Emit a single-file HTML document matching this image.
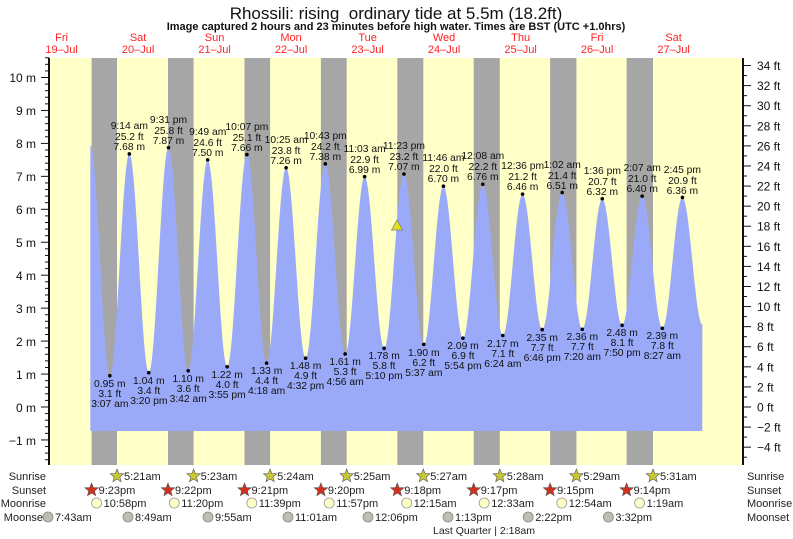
<!DOCTYPE html>
<html><head><meta charset="utf-8"><style>
body{margin:0;background:#fff}
svg{display:block;font-family:"Liberation Sans",sans-serif}
.l{font-size:10.3px;fill:#111;text-anchor:middle}
.d{font-size:11px;fill:#f22;text-anchor:middle}
.ax{font-size:12px;fill:#111}
.b{font-size:11px;fill:#222}
</style></head><body>
<svg id="s" width="793" height="539" viewBox="0 0 793 539" xmlns="http://www.w3.org/2000/svg">
<rect x="49" y="58" width="694" height="407" fill="#ffffc8"/>
<g fill="#a6a6a6">
<rect x="91.6" y="58" width="25.4" height="407"/>
<rect x="168" y="58" width="25.6" height="407"/>
<rect x="244.5" y="58" width="25.6" height="407"/>
<rect x="320.9" y="58" width="25.8" height="407"/>
<rect x="397.3" y="58" width="26" height="407"/>
<rect x="473.7" y="58" width="26.1" height="407"/>
<rect x="550.1" y="58" width="26.3" height="407"/>
<rect x="626.6" y="58" width="26.4" height="407"/>
</g>
<path id="tide" fill="#9aaaf8" d=""/>
<g id="ticks" stroke="#111" stroke-width="1"></g>
<line x1="49" y1="58" x2="49" y2="465" stroke="#111" stroke-width="2"/>
<line x1="743" y1="58" x2="743" y2="465" stroke="#111" stroke-width="2"/>
<text x="396" y="19" text-anchor="middle" font-size="17" fill="#111">Rhossili: rising &#160;ordinary tide at 5.5m (18.2ft)</text>
<text x="396" y="30" text-anchor="middle" font-size="11" font-weight="bold" fill="#111">Image captured 2 hours and 23 minutes before high water. Times are BST (UTC +1.0hrs)</text>
<text class="d" x="61.6" y="41">Fri</text><text class="d" x="61.6" y="53">19–Jul</text>
<text class="d" x="138.1" y="41">Sat</text><text class="d" x="138.1" y="53">20–Jul</text>
<text class="d" x="214.6" y="41">Sun</text><text class="d" x="214.6" y="53">21–Jul</text>
<text class="d" x="291.1" y="41">Mon</text><text class="d" x="291.1" y="53">22–Jul</text>
<text class="d" x="367.6" y="41">Tue</text><text class="d" x="367.6" y="53">23–Jul</text>
<text class="d" x="444.1" y="41">Wed</text><text class="d" x="444.1" y="53">24–Jul</text>
<text class="d" x="520.6" y="41">Thu</text><text class="d" x="520.6" y="53">25–Jul</text>
<text class="d" x="597.1" y="41">Fri</text><text class="d" x="597.1" y="53">26–Jul</text>
<text class="d" x="673.6" y="41">Sat</text><text class="d" x="673.6" y="53">27–Jul</text>
<g class="ax" text-anchor="end">
<text x="36" y="82">10 m</text><text x="36" y="115">9 m</text><text x="36" y="148">8 m</text><text x="36" y="181">7 m</text><text x="36" y="214">6 m</text><text x="36" y="247">5 m</text><text x="36" y="280">4 m</text><text x="36" y="313">3 m</text><text x="36" y="346">2 m</text><text x="36" y="379">1 m</text><text x="36" y="412">0 m</text><text x="36" y="445">−1 m</text>
</g>
<g id="rl" class="ax"></g>
<g id="pts" fill="#000"></g>
<g class="l">
<text x="129.3" y="129">9:14 am</text><text x="129.3" y="140">25.2 ft</text><text x="129.3" y="150">7.68 m</text>
<text x="168.5" y="123">9:31 pm</text><text x="168.5" y="134">25.8 ft</text><text x="168.5" y="144">7.87 m</text>
<text x="207.7" y="135">9:49 am</text><text x="207.7" y="146">24.6 ft</text><text x="207.7" y="156">7.50 m</text>
<text x="246.9" y="130">10:07 pm</text><text x="246.9" y="141">25.1 ft</text><text x="246.9" y="151">7.66 m</text>
<text x="286.1" y="143">10:25 am</text><text x="286.1" y="154">23.8 ft</text><text x="286.1" y="164">7.26 m</text>
<text x="325.3" y="139">10:43 pm</text><text x="325.3" y="150">24.2 ft</text><text x="325.3" y="160">7.38 m</text>
<text x="364.6" y="152">11:03 am</text><text x="364.6" y="163">22.9 ft</text><text x="364.6" y="173">6.99 m</text>
<text x="403.9" y="149">11:23 pm</text><text x="403.9" y="160">23.2 ft</text><text x="403.9" y="170">7.07 m</text>
<text x="443.4" y="161">11:46 am</text><text x="443.4" y="172">22.0 ft</text><text x="443.4" y="182">6.70 m</text>
<text x="482.8" y="159">12:08 am</text><text x="482.8" y="170">22.2 ft</text><text x="482.8" y="180">6.76 m</text>
<text x="522.6" y="169">12:36 pm</text><text x="522.6" y="180">21.2 ft</text><text x="522.6" y="190">6.46 m</text>
<text x="562.2" y="168">1:02 am</text><text x="562.2" y="179">21.4 ft</text><text x="562.2" y="189">6.51 m</text>
<text x="602.3" y="174">1:36 pm</text><text x="602.3" y="185">20.7 ft</text><text x="602.3" y="195">6.32 m</text>
<text x="642.2" y="171">2:07 am</text><text x="642.2" y="182">21.0 ft</text><text x="642.2" y="192">6.40 m</text>
<text x="682.4" y="173">2:45 pm</text><text x="682.4" y="184">20.9 ft</text><text x="682.4" y="194">6.36 m</text>
<text x="109.8" y="387">0.95 m</text><text x="109.8" y="397">3.1 ft</text><text x="109.8" y="407">3:07 am</text>
<text x="148.8" y="384">1.04 m</text><text x="148.8" y="394">3.4 ft</text><text x="148.8" y="404">3:20 pm</text>
<text x="188.2" y="382">1.10 m</text><text x="188.2" y="392">3.6 ft</text><text x="188.2" y="402">3:42 am</text>
<text x="227.1" y="378">1.22 m</text><text x="227.1" y="388">4.0 ft</text><text x="227.1" y="398">3:55 pm</text>
<text x="266.6" y="374">1.33 m</text><text x="266.6" y="384">4.4 ft</text><text x="266.6" y="394">4:18 am</text>
<text x="305.6" y="369">1.48 m</text><text x="305.6" y="379">4.9 ft</text><text x="305.6" y="389">4:32 pm</text>
<text x="345.1" y="365">1.61 m</text><text x="345.1" y="375">5.3 ft</text><text x="345.1" y="385">4:56 am</text>
<text x="384.1" y="359">1.78 m</text><text x="384.1" y="369">5.8 ft</text><text x="384.1" y="379">5:10 pm</text>
<text x="423.8" y="356">1.90 m</text><text x="423.8" y="366">6.2 ft</text><text x="423.8" y="376">5:37 am</text>
<text x="463" y="349">2.09 m</text><text x="463" y="359">6.9 ft</text><text x="463" y="369">5:54 pm</text>
<text x="502.8" y="347">2.17 m</text><text x="502.8" y="357">7.1 ft</text><text x="502.8" y="367">6:24 am</text>
<text x="542.2" y="341">2.35 m</text><text x="542.2" y="351">7.7 ft</text><text x="542.2" y="361">6:46 pm</text>
<text x="582.3" y="340">2.36 m</text><text x="582.3" y="350">7.7 ft</text><text x="582.3" y="360">7:20 am</text>
<text x="622.1" y="336">2.48 m</text><text x="622.1" y="346">8.1 ft</text><text x="622.1" y="356">7:50 pm</text>
<text x="662.3" y="339">2.39 m</text><text x="662.3" y="349">7.8 ft</text><text x="662.3" y="359">8:27 am</text>
</g>
<polygon points="397,220 391.5,230 402.5,230" fill="#e0e020" stroke="#777" stroke-width="0.7"/>
<g class="b" text-anchor="end">
<text x="46" y="480">Sunrise</text><text x="46" y="494">Sunset</text><text x="46" y="507">Moonrise</text><text x="46" y="521">Moonset</text>
</g>
<g class="b">
<text x="747" y="480">Sunrise</text><text x="747" y="494">Sunset</text><text x="747" y="507">Moonrise</text><text x="747" y="521">Moonset</text>
</g>
<g id="ev"></g>
<text x="433" y="534" font-size="10.5" fill="#222">Last Quarter | 2:18am</text>
</svg>
<script>
var NS="http://www.w3.org/2000/svg";
function X(h){return 23.4+h*3.1875}
function Y(m){return 407-m*32.95}
var e=[[21,7.95],[27.117,.95],[33.233,7.68],[39.333,1.04],[45.517,7.87],[51.7,1.1],[57.817,7.5],[63.917,1.22],[70.117,7.66],[76.3,1.33],[82.417,7.26],[88.533,1.48],[94.717,7.38],[100.933,1.61],[107.05,6.99],[113.167,1.78],[119.383,7.07],[125.617,1.9],[131.767,6.7],[137.9,2.09],[144.133,6.76],[150.4,2.17],[156.6,6.46],[162.767,2.35],[169.033,6.51],[175.333,2.36],[181.6,6.32],[187.833,2.48],[194.117,6.4],[200.45,2.39],[206.75,6.36],[213,2.5]];
var d="M"+X(21).toFixed(1)+",431";
for(var i=0;i<e.length-1;i++){var a=e[i],b=e[i+1];for(var k=0;k<=20;k++){var t=k/20,h=a[0]+(b[0]-a[0])*t,m=a[1]+(b[1]-a[1])*(1-Math.cos(Math.PI*t))/2;d+=" L"+X(h).toFixed(2)+","+Y(m).toFixed(2);}}
d+=" L"+X(213).toFixed(1)+",431 Z";
document.getElementById("tide").setAttribute("d",d);
var pts=document.getElementById("pts");
for(i=1;i<e.length-1;i++){var c=document.createElementNS(NS,"circle");c.setAttribute("cx",X(e[i][0]));c.setAttribute("cy",Y(e[i][1]));c.setAttribute("r",1.8);pts.appendChild(c);}
var tk=document.getElementById("ticks"),s="";
for(var v=-1.6;v<=10.6;v+=0.2){var y=Y(v),maj=Math.abs(v-Math.round(v))<0.01;s+='<line x1="'+(maj?41:45)+'" x2="49" y1="'+y+'" y2="'+y+'"/>';}
for(var f=-5;f<=34;f++){var y2=407-f*0.3048*32.95;s+='<line x1="743" x2="'+(f%2==0?751:747)+'" y1="'+y2+'" y2="'+y2+'"/>';}
tk.innerHTML=s;
var rl=document.getElementById("rl"),r="",lbl=[34,32,30,28,26,24,22,20,18,16,14,12,10,8,6,4,2,0,-2,-4];
for(i=0;i<lbl.length;i++){var f2=lbl[i];r+='<text x="757" y="'+(407-f2*0.3048*32.95+4.5)+'">'+(f2<0?'−'+(-f2):f2)+' ft</text>';}
rl.innerHTML=r;
function star(cx,cy,col){var p="";for(var j=0;j<10;j++){var rr=j%2?3:7,an=-Math.PI/2+j*Math.PI/5;p+=(cx+rr*Math.cos(an)).toFixed(1)+","+(cy+rr*Math.sin(an)).toFixed(1)+" ";}return '<polygon points="'+p+'" fill="'+col+'" stroke="#555" stroke-width="0.6"/>';}
var ev=document.getElementById("ev"),o="";
var sr=[[117,"5:21am"],[193.6,"5:23am"],[270.1,"5:24am"],[346.7,"5:25am"],[423.3,"5:27am"],[499.8,"5:28am"],[576.4,"5:29am"],[653,"5:31am"]];
var ss=[[91.6,"9:23pm"],[168,"9:22pm"],[244.5,"9:21pm"],[320.9,"9:20pm"],[397.3,"9:18pm"],[473.7,"9:17pm"],[550.1,"9:15pm"],[626.6,"9:14pm"]];
var mr=[[96.6,"10:58pm"],[174.3,"11:20pm"],[251.8,"11:39pm"],[329.2,"11:57pm"],[406.7,"12:15am"],[484.2,"12:33am"],[561.8,"12:54am"],[639.6,"1:19am"]];
var ms=[[48,"7:43am"],[128,"8:49am"],[208,"9:55am"],[288,"11:01am"],[368,"12:06pm"],[448,"1:13pm"],[528.2,"2:22pm"],[608.4,"3:32pm"]];
sr.forEach(function(q){o+=star(q[0],476,"#c8c832")+'<text class="b" x="'+(q[0]+7)+'" y="480">'+q[1]+'</text>';});
ss.forEach(function(q){o+=star(q[0],490,"#d03020")+'<text class="b" x="'+(q[0]+7)+'" y="494">'+q[1]+'</text>';});
mr.forEach(function(q){o+='<circle cx="'+q[0]+'" cy="503" r="5" fill="#ffffc8" stroke="#999" stroke-width="0.8"/><text class="b" x="'+(q[0]+7)+'" y="507">'+q[1]+'</text>';});
ms.forEach(function(q){o+='<circle cx="'+q[0]+'" cy="517" r="5" fill="#c0bcb0" stroke="#888" stroke-width="0.8"/><text class="b" x="'+(q[0]+7)+'" y="521">'+q[1]+'</text>';});
ev.innerHTML=o;
</script>
</body></html>
